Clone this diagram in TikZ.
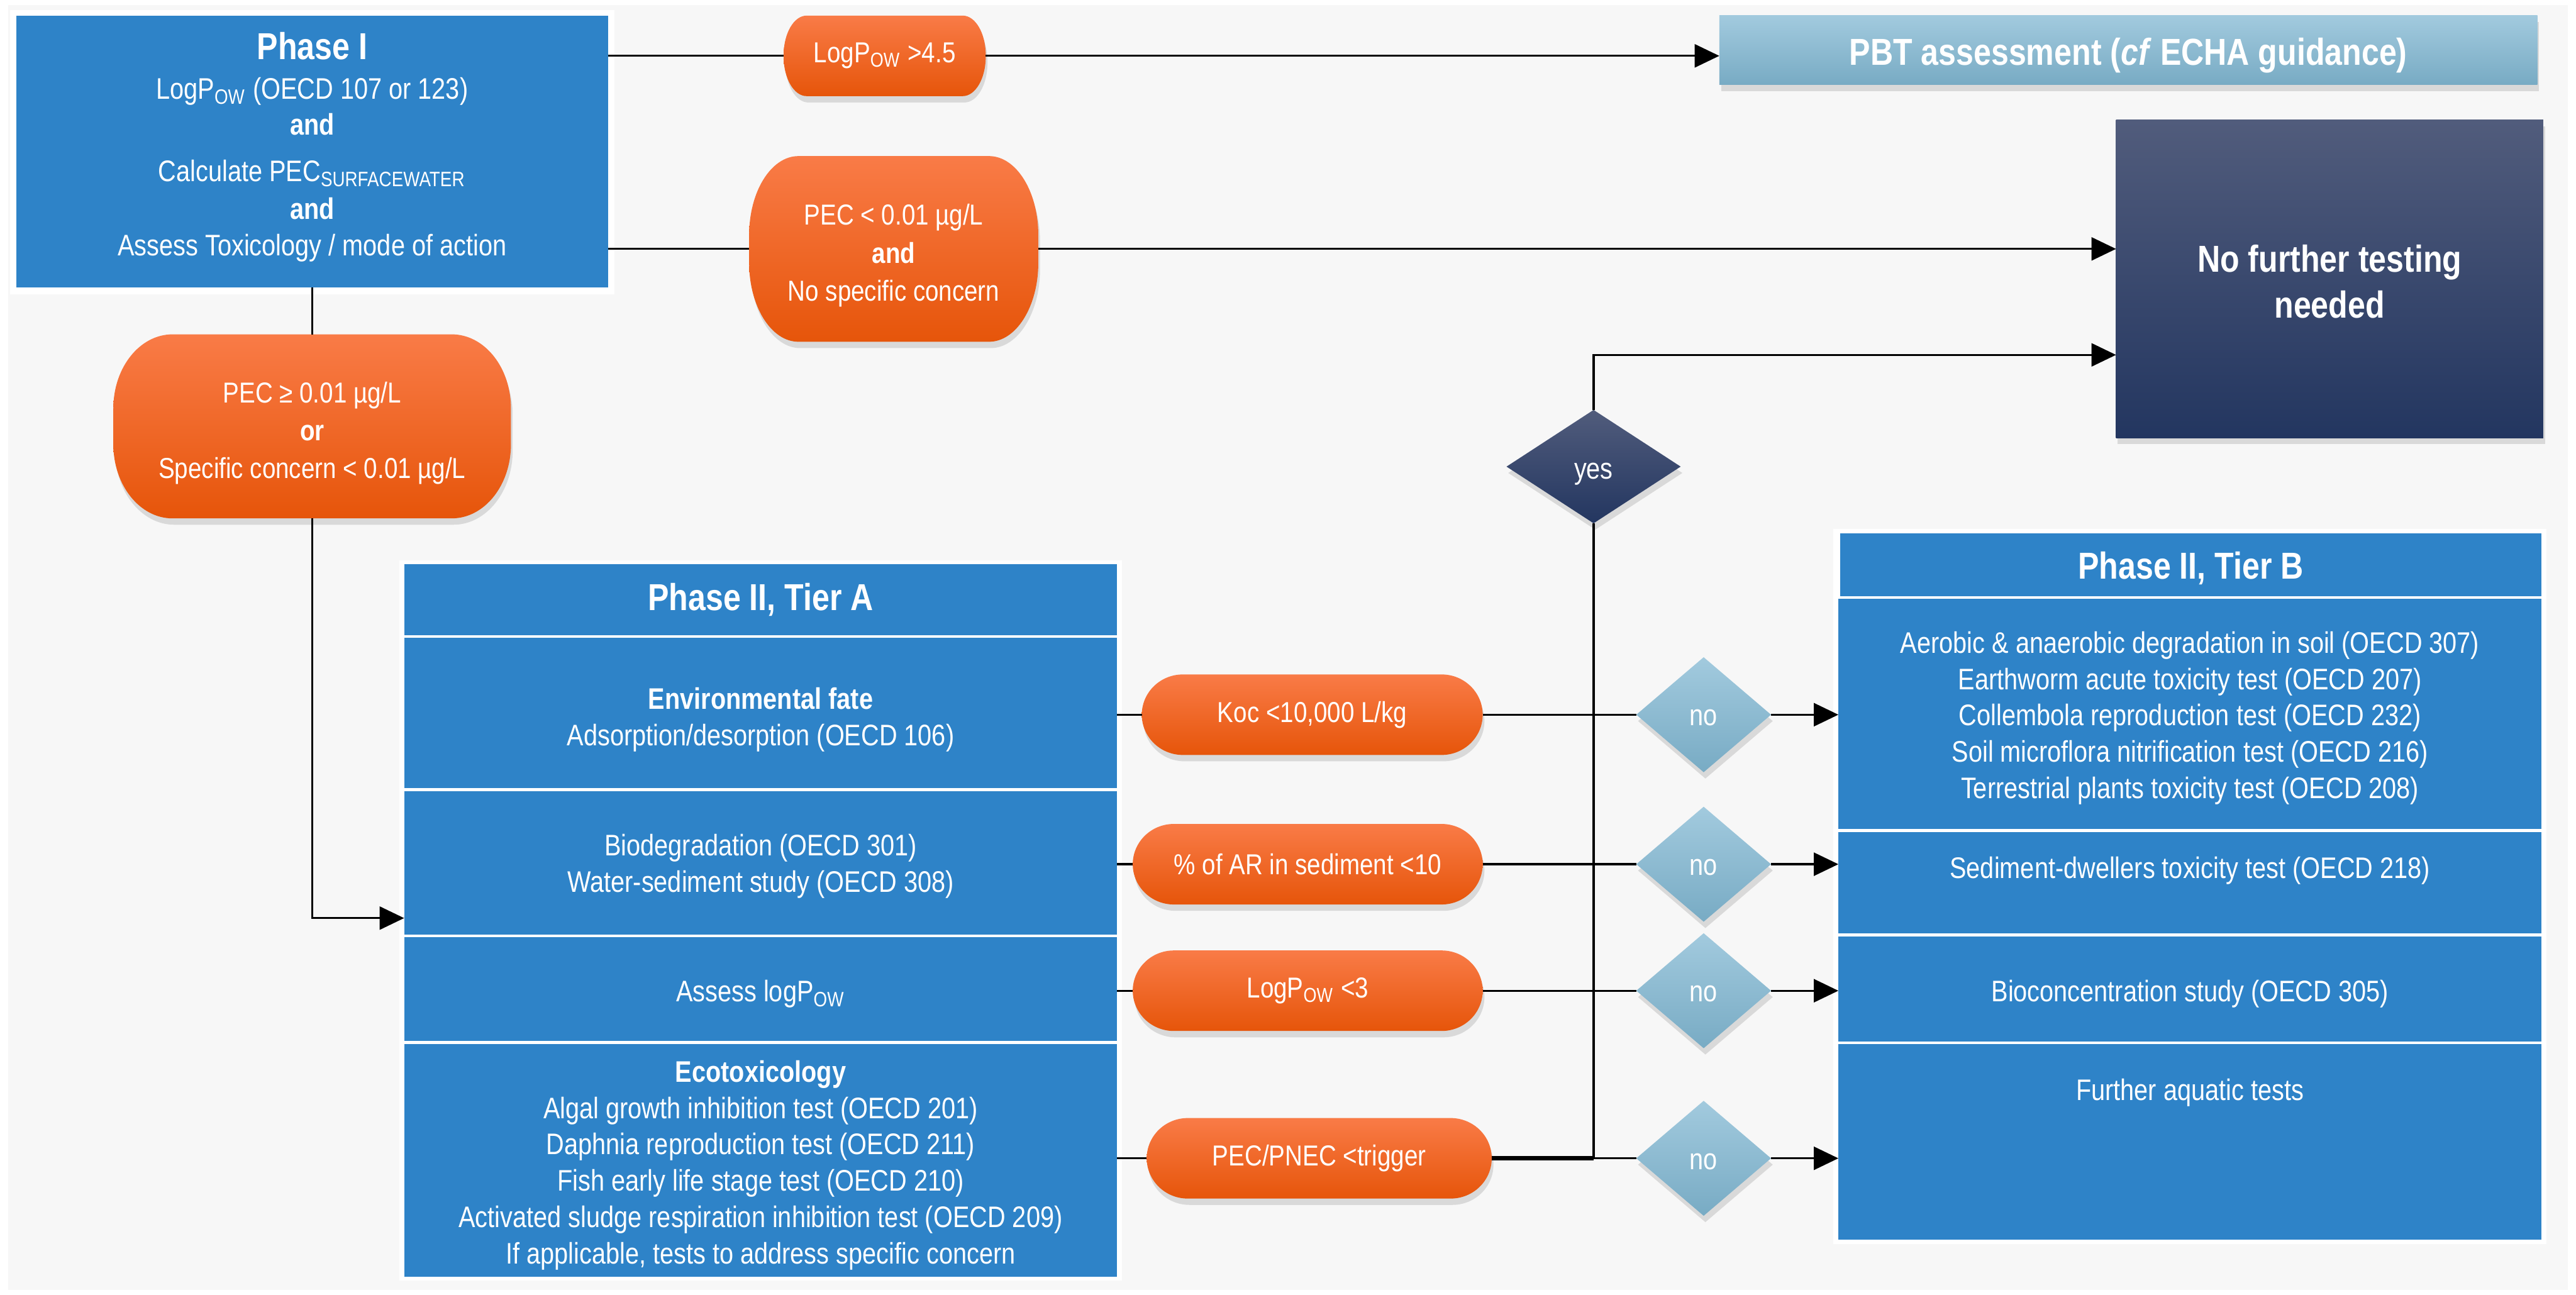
\documentclass[tikz,border=0pt]{standalone}
\usepackage{fontspec}
\setmainfont{Liberation Sans}[FakeStretch=0.84]
\usetikzlibrary{arrows.meta,shapes.geometric,shadows,calc}
\definecolor{bgc}{HTML}{F7F7F7}
\definecolor{blueb}{HTML}{2E83C8}
\definecolor{orT}{HTML}{F97B47}
\definecolor{orM}{HTML}{FF6000}
\definecolor{orB}{HTML}{E6550A}
\definecolor{lbT}{HTML}{A2CADE}
\definecolor{lbB}{HTML}{78ABC4}
\definecolor{nvT}{HTML}{515C7C}
\definecolor{nvB}{HTML}{233660}
\newcommand\bodyfont{\fontsize{10.3}{12.6}\selectfont}
\newcommand\pillfont{\fontsize{10}{12.6}\selectfont}
\newcommand\titlefont{\fontsize{13}{16}\selectfont\bfseries}
\newcommand\up[1]{\rule{0pt}{#1}}
\newcommand\dn[1]{\rule[-#1]{0pt}{#1}}
\newcommand{\pill}[8]{%
 \path[orangeshade] ({#2+#6},#3) -- ({#4-#6},#3) .. controls ({#4-0.448*#6},#3) and (#4,{#3+0.448*#7}) .. (#4,{#3+#7}) -- (#4,{#5-#7}) .. controls (#4,{#5-0.448*#7}) and ({#4-0.448*#6},#5) .. ({#4-#6},#5) -- ({#2+#6},#5) .. controls ({#2+0.448*#6},#5) and (#2,{#5-0.448*#7}) .. (#2,{#5-#7}) -- (#2,{#3+#7}) .. controls (#2,{#3+0.448*#7}) and ({#2+0.448*#6},#3) .. ({#2+#6},#3) -- cycle;
 \node[pilltext, minimum width={(#4-#2)*0.02cm}, minimum height={(#5-#3)*0.02cm}] (#1) at ({(#2+#4)/2},{(#3+#5)/2}) {#8};}
\newcommand{\boxn}[7][]{\node[boxst,#1,minimum width={(#5-#3)*0.02cm},minimum height={(#6-#4)*0.02cm}] (#2) at ({(#3+#5)/2},{(#4+#6)/2}) {#7};}
\begin{document}
\begin{tikzpicture}[x=0.02cm,y=-0.02cm,
  shd/.style={drop shadow={shadow xshift=0.6pt, shadow yshift=-2.2pt, opacity=0.25}},
  orangeshade/.style={top color=orT, middle color=orM, bottom color=orB, shd},
  pilltext/.style={text=white, font=\pillfont, align=center, inner sep=0pt, outer sep=0pt},
  boxst/.style={fill=blueb, text=white, inner sep=0pt, outer sep=0pt, align=center, font=\bodyfont},
  nodiam/.style={diamond, minimum width=1.64cm, minimum height=1.4cm, inner sep=0pt, outer sep=0pt, top color=lbT, bottom color=lbB, shd, text=white, font=\bodyfont},
  ln/.style={draw=black, line width=0.7pt},
  arr/.style={-{Triangle[length=8.5pt,width=8pt]}}]
\fill[white] (0,0) rectangle (1568,788);
\fill[bgc] (5,3) rectangle (1563,785);
\useasboundingbox (0,0) rectangle (1568,788);

% Phase I
\fill[white] (6,6) rectangle (374,179);
\boxn{ph1}{10}{9.5}{370}{175}{{\titlefont Phase I}\\[1.1pt]
 LogP\textsubscript{OW} (OECD 107 or 123)\\[-0.3pt]
 \textbf{and}\\[3.7pt]
 Calculate PEC\textsubscript{SURFACEWATER}\\[0.4pt]
 \textbf{and}\\
 Assess Toxicology / mode of action\dn{5.2pt}}

% top pills
\pill{p45}{477}{9.5}{600}{58.5}{14}{24}{LogP\textsubscript{OW} >4.5}
\pill{pec1}{456}{95}{632}{208}{30}{48}{\up{11.8pt}PEC < 0.01 µg/L\\[0.5pt]\textbf{and}\\[0.5pt]No specific concern}
\pill{pec2}{69}{203.5}{311}{315.5}{36}{45}{\up{11.8pt}PEC ≥ 0.01 µg/L\\[0.5pt]\textbf{or}\\[0.5pt]Specific concern < 0.01 µg/L}

% PBT and No further testing
\node[top color=lbT, bottom color=lbB, shd, text=white, font=\titlefont, inner sep=0pt, outer sep=0pt,
  minimum width={498*0.02cm}, minimum height={42*0.02cm}] (pbt) at (1295.5,30.5) {\up{13pt}PBT assessment (\textit{cf} ECHA guidance)};
\node[top color=nvT, bottom color=nvB, shd, text=white, font=\fontsize{13}{16}\selectfont\bfseries, align=center,
  inner sep=0pt, outer sep=0pt, minimum width={260*0.02cm}, minimum height={193.5*0.02cm}] (nft) at (1418,169.75) {\up{11.2pt}No further testing\\needed};

% yes diamond
\node[diamond, minimum width=2.12cm, minimum height=1.38cm, inner sep=0pt, outer sep=0pt, top color=nvT, bottom color=nvB, shd, text=white, font=\bodyfont] (yes) at (970,284) {\up{10.6pt}yes};

% Tier A
\fill[white] (243,341) rectangle (683,779.5);
\boxn[font=\titlefont]{ta0}{246}{343.5}{680}{386.6}{Phase II, Tier A}
\boxn{ta1}{246}{388}{680}{479.8}{\up{12pt}\textbf{Environmental fate}\\Adsorption/desorption (OECD 106)}
\boxn{ta2}{246}{481.5}{680}{568.8}{\up{9.8pt}Biodegradation (OECD 301)\\Water-sediment study (OECD 308)}
\boxn{ta3}{246}{570.5}{680}{633.5}{\up{10.9pt}Assess logP\textsubscript{OW}}
\boxn{ta4}{246}{635.3}{680}{777}{\up{10.9pt}\textbf{Ecotoxicology}\\Algal growth inhibition test (OECD 201)\\Daphnia reproduction test (OECD 211)\\Fish early life stage test (OECD 210)\\Activated sludge respiration inhibition test (OECD 209)\\If applicable, tests to address specific concern}

% Tier B
\fill[white] (1116,322) rectangle (1550,757);
\boxn[font=\titlefont]{tb0}{1120}{324.5}{1547}{362.8}{\up{11.8pt}Phase II, Tier B}
\boxn{tb1}{1119}{364.6}{1547}{504.5}{\up{10.3pt}Aerobic \& anaerobic degradation in soil (OECD 307)\\Earthworm acute toxicity test (OECD 207)\\Collembola reproduction test (OECD 232)\\Soil microflora nitrification test (OECD 216)\\Terrestrial plants toxicity test (OECD 208)}
\boxn[text depth=10.3pt]{tb2}{1119}{506.3}{1547}{568}{Sediment-dwellers toxicity test (OECD 218)}
\boxn{tb3}{1119}{570}{1547}{634}{\up{10.9pt}Bioconcentration study (OECD 305)}
\boxn[text depth=36.3pt]{tb4}{1119}{635.6}{1547}{754.5}{Further aquatic tests}

% Tier pills
\pill{k1}{695}{410.5}{902.5}{459.5}{25}{24.5}{Koc <10,000 L/kg}
\pill{k2}{689.5}{501.5}{902.5}{550.5}{25}{24.5}{\% of AR in sediment <10}
\pill{k3}{689.5}{578.5}{902.5}{627.5}{25}{24.5}{LogP\textsubscript{OW} <3}
\pill{k4}{698}{680.5}{908}{729.5}{25}{24.5}{PEC/PNEC <trigger}

% no diamonds
\node[nodiam] (n1) at (1037,435) {\up{7.7pt}no};
\node[nodiam] (n2) at (1037,526) {\up{7.7pt}no};
\node[nodiam] (n3) at (1037,603) {\up{7.7pt}no};
\node[nodiam] (n4) at (1037,705) {\up{7.7pt}no};

% connectors
\draw[ln] (ph1.east |- p45.west) -- (p45.west);
\draw[ln,arr] (p45.east) -- (p45.east -| pbt.west);
\draw[ln] (ph1.east |- pec1.west) -- (pec1.west);
\draw[ln,arr] (pec1.east) -- (pec1.east -| nft.west);
\draw[ln] (ph1.south) -- (pec2.north);
\draw[ln,arr] (pec2.south) |- ($(ta2.south west)+(0,-10)$);
\draw[ln] (ta1.east |- k1.west) -- (k1.west);
\draw[ln] (ta2.east |- k2.west) -- (k2.west);
\draw[ln] (ta3.east |- k3.west) -- (k3.west);
\draw[ln] (ta4.east |- k4.west) -- (k4.west);
\draw[ln] (k1.east) -- (n1.west);
\draw[ln] (k2.east) -- (n2.west);
\draw[ln] (k3.east) -- (n3.west);
\draw[ln] (k4.east) -- (n4.west);
\draw[ln,arr] (n1.east) -- (n1.east -| tb1.west);
\draw[ln,arr] (n2.east) -- (n2.east -| tb2.west);
\draw[ln,arr] (n3.east) -- (n3.east -| tb3.west);
\draw[ln,arr] (n4.east) -- (n4.east -| tb4.west);
\draw[line width=1.5pt] (k4.east) -- (k4.east -| yes.south);
\draw[ln] (yes.south) -- (yes.south |- k4.east);
\draw[ln,arr] (yes.north) |- ($(nft.south west)+(0,-50.5)$);
\end{tikzpicture}
\end{document}
